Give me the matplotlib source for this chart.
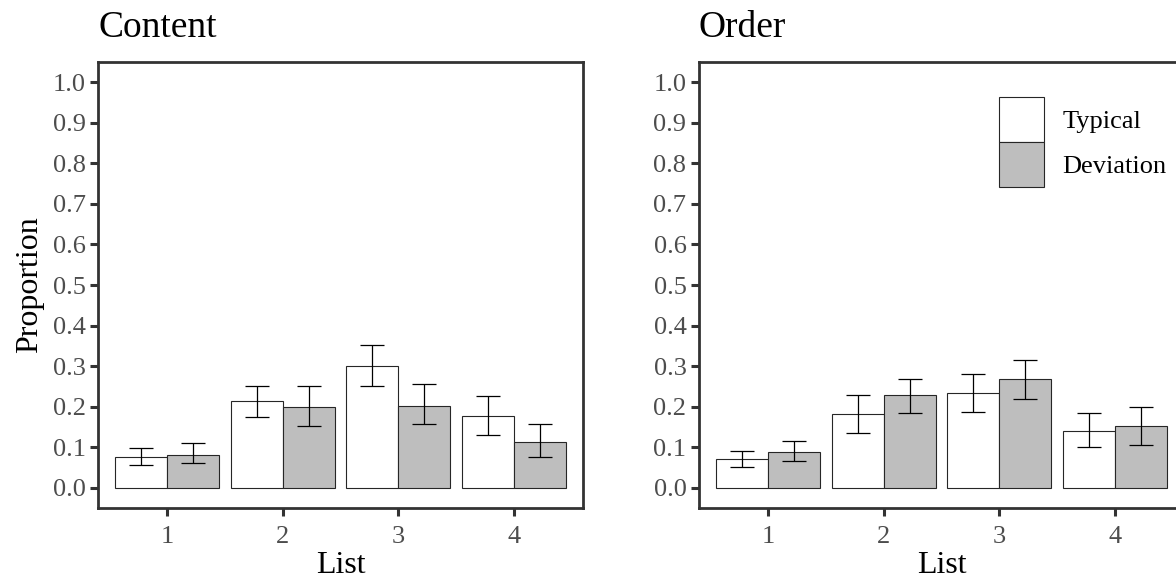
import matplotlib
matplotlib.use("Agg")
import matplotlib.pyplot as plt
from matplotlib.patches import Patch
import numpy as np

plt.rcParams['font.family'] = ['Liberation Serif', 'DejaVu Serif']

# ---- data ----
lists = [1, 2, 3, 4]
tick_labels = ["1", "2", "3", "4"]
y_ticks = [0.0, 0.1, 0.2, 0.3, 0.4, 0.5, 0.6, 0.7, 0.8, 0.9, 1.0]
series_names = ["Typical", "Deviation"]

content_typical = [0.075, 0.214, 0.300, 0.177]
content_typical_lo = [0.057, 0.174, 0.252, 0.131]
content_typical_hi = [0.099, 0.252, 0.352, 0.226]
content_deviation = [0.081, 0.198, 0.202, 0.1125]
content_deviation_lo = [0.060, 0.153, 0.158, 0.075]
content_deviation_hi = [0.110, 0.250, 0.257, 0.157]

order_typical = [0.070, 0.1815, 0.234, 0.139]
order_typical_lo = [0.052, 0.136, 0.186, 0.101]
order_typical_hi = [0.090, 0.228, 0.281, 0.184]
order_deviation = [0.089, 0.228, 0.269, 0.153]
order_deviation_lo = [0.065, 0.184, 0.219, 0.105]
order_deviation_hi = [0.115, 0.269, 0.316, 0.200]

panels = [
    ("Content", content_typical, content_typical_lo, content_typical_hi,
     content_deviation, content_deviation_lo, content_deviation_hi),
    ("Order", order_typical, order_typical_lo, order_typical_hi,
     order_deviation, order_deviation_lo, order_deviation_hi),
]

# ---- style ----
W, H = 1176, 580
fig = plt.figure(figsize=(W / 100, H / 100), dpi=100)
fills = ["#FFFFFF", "#BEBEBE"]
edge = "#262626"
spine_col = "#333333"
tick_lab_col = "#4D4D4D"
bar_w = 0.45

ax_lefts = [98, 699]
ax_w = 485
ax_top, ax_bot = 62, 508

axes = []
for i, (title, t, tlo, thi, d, dlo, dhi) in enumerate(panels):
    ax = fig.add_axes([ax_lefts[i] / W, 1 - ax_bot / H, ax_w / W, (ax_bot - ax_top) / H])
    axes.append(ax)
    x = np.array(lists, dtype=float)
    for j, (vals, lo, hi) in enumerate([(t, tlo, thi), (d, dlo, dhi)]):
        xs = x + (j - 0.5) * bar_w
        vals = np.array(vals); lo = np.array(lo); hi = np.array(hi)
        ax.bar(xs, vals, width=bar_w, color=fills[j], edgecolor=edge,
               linewidth=0.8, zorder=2, label=series_names[j])
        ax.errorbar(xs, vals, yerr=[vals - lo, hi - vals], fmt="none",
                    ecolor="black", elinewidth=0.9, capsize=8.3,
                    capthick=0.9, zorder=3)
    ax.set_xlim(0.4, 4.6)
    ax.set_ylim(-0.05, 1.05)
    ax.set_xticks(lists)
    ax.set_xticklabels(tick_labels)
    ax.set_yticks(y_ticks)
    ax.set_yticklabels([f"{v:.1f}" for v in y_ticks])
    for s in ax.spines.values():
        s.set_color(spine_col)
        s.set_linewidth(2.0)
    ax.tick_params(axis="both", direction="out", length=6, width=2.2,
                   color=spine_col, labelcolor=tick_lab_col, labelsize=19)
    ax.tick_params(axis="y", pad=3)
    ax.tick_params(axis="x", pad=7)
    ax.set_title(title, loc="left", fontsize=27, pad=18, color="black")
    ax.set_xlabel("List", fontsize=23, labelpad=2, color="black")

axes[0].set_ylabel("Proportion", fontsize=23, labelpad=6, color="black")

handles = [Patch(facecolor=fills[k], edgecolor=edge, linewidth=0.8) for k in range(2)]
axes[1].legend(handles, series_names, loc="upper left",
               bbox_to_anchor=((999 - 699) / ax_w, (ax_bot - 97) / (ax_bot - ax_top)),
               frameon=False, fontsize=19, handlelength=1.7, handleheight=2.25,
               labelspacing=0.0, handletextpad=0.7, borderpad=0, borderaxespad=0)

fig.savefig("out.png", dpi=100)
